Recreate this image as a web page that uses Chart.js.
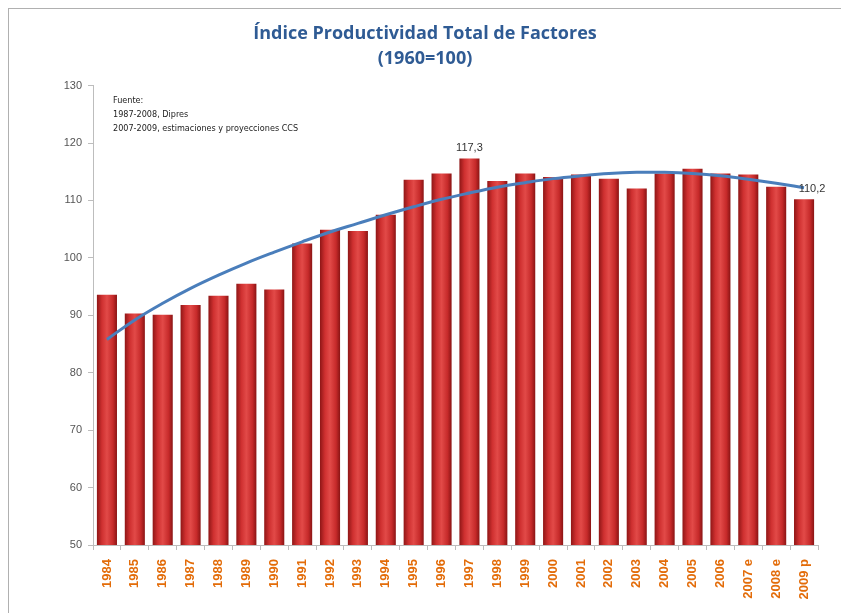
<!DOCTYPE html>
<html>
<head>
<meta charset="utf-8">
<script src="https://cdn.jsdelivr.net/npm/chart.js@4/dist/chart.umd.min.js"></script>
<style>
  body { margin: 0; background: #ffffff; }
  #wrap { width: 841px; height: 613px; }
</style>
</head>
<body>
<div id="wrap"><canvas id="ptf" width="841" height="613"></canvas></div>
<script>
var years = ["1984","1985","1986","1987","1988","1989","1990","1991","1992","1993","1994","1995","1996",
             "1997","1998","1999","2000","2001","2002","2003","2004","2005","2006","2007 e","2008 e","2009 p"];

var ptfIndex = [93.6, 90.3, 90.1, 91.8, 93.4, 95.5, 94.5, 102.5, 104.9, 104.7, 107.5, 113.6, 114.7,
                117.3, 113.4, 114.7, 114.1, 114.5, 113.8, 112.1, 114.7, 115.5, 114.7, 114.5, 112.4, 110.2];

// tendencia polinomica
var trend = [85.8, 89.2, 92.1, 94.7, 97.0, 99.1, 101.0, 102.8, 104.5, 106.0, 107.5, 108.9, 110.2,
             111.3, 112.3, 113.1, 113.8, 114.3, 114.7, 114.9, 114.9, 114.7, 114.3, 113.7, 113.0, 112.2];

var yTicks = [50, 60, 70, 80, 90, 100, 110, 120, 130];

var sourceLines = ["Fuente:", "1987-2008, Dipres", "2007-2009, estimaciones y proyecciones CCS"];

/* fondo blanco y marco gris */
var frame = {
  id: "frame",
  beforeDraw: function(chart){
    var c = chart.ctx;
    c.save();
    c.fillStyle = "#ffffff";
    c.fillRect(0, 0, chart.width, chart.height);
    c.strokeStyle = "#b0b0b0";
    c.lineWidth = 1;
    c.strokeRect(8.5, 8.5, chart.width, chart.height);
    c.restore();
  }
};

/* nota de fuente y etiquetas de valores */
var notes = {
  id: "notes",
  afterDatasetsDraw: function(chart){
    var c = chart.ctx;
    var xs = chart.scales.x, ys = chart.scales.y;
    c.save();
    c.fillStyle = "#222222";
    c.font = "9px 'DejaVu Sans Condensed', 'Liberation Sans', sans-serif";
    c.textBaseline = "middle";
    for (var i = 0; i < sourceLines.length; i++) {
      c.fillText(sourceLines[i], 113, 101 + i * 14);
    }
    c.font = "11px 'Liberation Sans', sans-serif";
    c.fillStyle = "#333333";
    c.textAlign = "center";
    c.textBaseline = "bottom";
    var i97 = years.indexOf("1997");
    c.fillText("117,3", xs.getPixelForValue(i97), ys.getPixelForValue(ptfIndex[i97]) - 5);
    var last = years.length - 1;
    c.fillText("110,2", xs.getPixelForValue(last) + 8, ys.getPixelForValue(trend[last]) + 7);
    c.restore();
  }
};

var barFill = function(context){
  var chart = context.chart;
  if (!chart.chartArea) return "#d63a3a";
  var xs = chart.scales.x;
  var cx = xs.getPixelForValue(context.dataIndex);
  var hw = (xs.width / years.length) * 0.72 / 2;
  var g = chart.ctx.createLinearGradient(cx - hw, 0, cx + hw, 0);
  g.addColorStop(0, "#8f1616");
  g.addColorStop(0.25, "#cf3030");
  g.addColorStop(0.5, "#e24a48");
  g.addColorStop(0.8, "#c62a2a");
  g.addColorStop(1, "#8a1414");
  return g;
};

var ctx = document.getElementById("ptf");
var chart = new Chart(ctx, {
  type: "bar",
  data: {
    labels: years,
    datasets: [
      {
        type: "line",
        data: trend,
        borderColor: "#4a7ebb",
        borderWidth: 3,
        pointRadius: 0,
        tension: 0.4,
        fill: false,
        order: 0
      },
      {
        data: ptfIndex,
        backgroundColor: barFill,
        borderWidth: 0,
        barPercentage: 0.72,
        categoryPercentage: 1,
        order: 1
      }
    ]
  },
  options: {
    responsive: false,
    animation: false,
    layout: { padding: { left: 32, right: 23, top: 0, bottom: 0 } },
    plugins: {
      legend: { display: false },
      tooltip: { enabled: false },
      title: {
        display: true,
        text: ["Índice Productividad Total de Factores", "(1960=100)"],
        color: "#2f5b94",
        font: { family: "'Open Sans', 'Liberation Sans', sans-serif", size: 18, weight: "bold", lineHeight: 1.35 },
        padding: { top: 22, bottom: 15 }
      }
    },
    scales: {
      x: {
        afterFit: function(scale){ scale.height = 68; },
        grid: { display: true, drawOnChartArea: false, offset: true, color: "#bdbdbd", tickLength: 5 },
        border: { color: "#bdbdbd" },
        ticks: {
          color: "#e36c09",
          font: { family: "'Liberation Sans', sans-serif", size: 13, weight: "bold" },
          maxRotation: 90,
          minRotation: 90,
          autoSkip: false,
          padding: 9
        }
      },
      y: {
        min: 50,
        max: 130,
        afterFit: function(scale){ scale.width = 61; },
        afterBuildTicks: function(scale){
          scale.ticks = yTicks.map(function(v){ return { value: v }; });
        },
        grid: { display: true, drawOnChartArea: false, color: "#bdbdbd", tickLength: 5 },
        border: { color: "#bdbdbd" },
        ticks: {
          color: "#555555",
          font: { family: "'Liberation Sans', sans-serif", size: 11 },
          padding: 6
        }
      }
    }
  },
  plugins: [frame, notes]
});
</script>
</body>
</html>
